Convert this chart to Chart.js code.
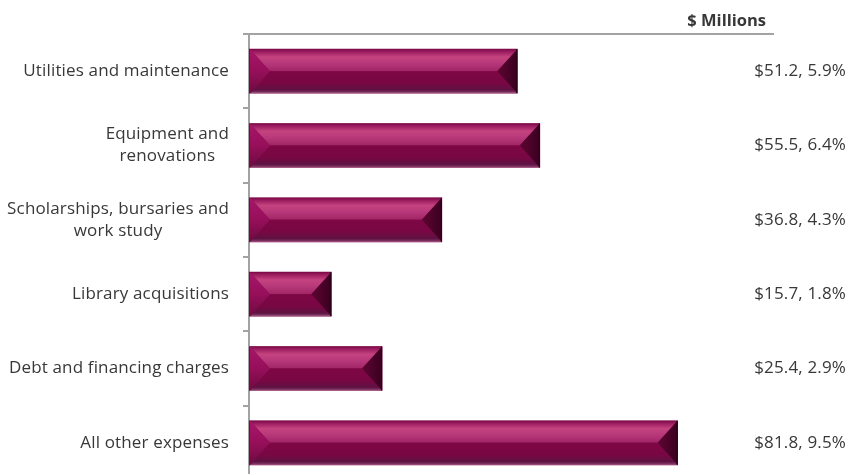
<!DOCTYPE html>
<html>
<head>
<meta charset="utf-8">
<script src="https://cdn.jsdelivr.net/npm/chart.js@4.4.1/dist/chart.umd.min.js"></script>
<style>
  html, body { margin: 0; padding: 0; background: #ffffff; overflow: hidden; }
  #wrap { position: relative; width: 850px; height: 490px; }
</style>
</head>
<body>
<div id="wrap"><canvas id="chart"></canvas></div>
<script>
// Expense categories (multi-line names are arrays of lines)
const categories = [
  'Utilities and maintenance',
  ['Equipment and', 'renovations'],
  ['Scholarships, bursaries and', 'work study'],
  'Library acquisitions',
  'Debt and financing charges',
  'All other expenses'
];
// Spending in $ millions
const amounts = [51.2, 55.5, 36.8, 15.7, 25.4, 81.8];
// Share of total spending, percent
const shares = [5.9, 6.4, 4.3, 1.8, 2.9, 9.5];
const unitLabel = '$ Millions';

const FONT = '"Open Sans", "Noto Sans", sans-serif';
const TEXT = '#383838';
const AXIS = '#a3a3a3';

// Paints each bar as a bevelled block: light top face, dark bottom face, angled ends
const bevelBars = {
  id: 'bevelBars',
  afterDatasetsDraw(chart) {
    const ctx = chart.ctx;
    chart.getDatasetMeta(0).data.forEach(bar => {
      const p = bar.getProps(['x', 'y', 'base', 'height'], true);
      const l = Math.min(p.base, p.x) + 1, r = Math.max(p.base, p.x);
      const t = p.y - p.height / 2, b = p.y + p.height / 2, m = p.y;
      const bw = Math.min(20, (r - l) / 2);
      ctx.save();
      // top face
      let g = ctx.createLinearGradient(0, t, 0, m);
      g.addColorStop(0, '#7c0a48');
      g.addColorStop(0.12, '#9c1d60');
      g.addColorStop(0.35, '#c4437f');
      g.addColorStop(0.65, '#b7387a');
      g.addColorStop(1, '#a02566');
      ctx.fillStyle = g;
      ctx.beginPath();
      ctx.moveTo(l, t); ctx.lineTo(r, t); ctx.lineTo(r - bw, m); ctx.lineTo(l + bw, m); ctx.closePath();
      ctx.fill();
      // bottom face
      g = ctx.createLinearGradient(0, m, 0, b);
      g.addColorStop(0, '#7e0745');
      g.addColorStop(0.55, '#780743');
      g.addColorStop(0.85, '#5e1242');
      g.addColorStop(0.95, '#7a3060');
      g.addColorStop(1, '#b0708f');
      ctx.fillStyle = g;
      ctx.beginPath();
      ctx.moveTo(l + bw, m); ctx.lineTo(r - bw, m); ctx.lineTo(r, b); ctx.lineTo(l, b); ctx.closePath();
      ctx.fill();
      // left face
      g = ctx.createLinearGradient(0, t, 0, b);
      g.addColorStop(0, '#a8166a');
      g.addColorStop(0.5, '#960f5a');
      g.addColorStop(1, '#6e0a40');
      ctx.fillStyle = g;
      ctx.beginPath();
      ctx.moveTo(l, t); ctx.lineTo(l + bw, m); ctx.lineTo(l, b); ctx.closePath();
      ctx.fill();
      // right face
      g = ctx.createLinearGradient(r - bw, 0, r, 0);
      g.addColorStop(0, '#5e0532');
      g.addColorStop(1, '#3a0020');
      ctx.fillStyle = g;
      ctx.beginPath();
      ctx.moveTo(r, t); ctx.lineTo(r, b); ctx.lineTo(r - bw, m); ctx.closePath();
      ctx.fill();
      // thin edge on the far end
      ctx.strokeStyle = '#2a0016';
      ctx.lineWidth = 1;
      ctx.beginPath();
      ctx.moveTo(r - 0.5, t); ctx.lineTo(r - 0.5, b);
      ctx.stroke();
      ctx.restore();
    });
  }
};

// Category names on the left, value captions on the right, unit header on top
const textLayer = {
  id: 'textLayer',
  afterDraw(chart) {
    const ctx = chart.ctx;
    const yScale = chart.scales.y;
    ctx.save();
    ctx.fillStyle = TEXT;
    ctx.font = '17px ' + FONT;
    ctx.letterSpacing = '0.15px';
    ctx.textBaseline = 'middle';
    const labelRight = yScale.right - 20;
    const lineH = 22;
    categories.forEach((cat, i) => {
      const lines = Array.isArray(cat) ? cat : [cat];
      const cy = yScale.getPixelForValue(i);
      const maxW = Math.max(...lines.map(s => ctx.measureText(s).width));
      const cx = labelRight - maxW / 2;
      ctx.textAlign = 'center';
      lines.forEach((s, k) => {
        ctx.fillText(s, cx, cy + (k - (lines.length - 1) / 2) * lineH);
      });
    });
    ctx.textAlign = 'right';
    chart.getDatasetMeta(0).data.forEach((bar, i) => {
      ctx.fillText('$' + amounts[i].toFixed(1) + ', ' + shares[i].toFixed(1) + '%', chart.width - 4, bar.y);
    });
    ctx.font = 'bold 16.5px ' + FONT;
    ctx.letterSpacing = '0px';
    ctx.textAlign = 'right';
    ctx.fillText(unitLabel, chart.chartArea.right - 7, 21);
    ctx.restore();
  }
};

new Chart(document.getElementById('chart'), {
  type: 'bar',
  data: {
    labels: categories,
    datasets: [{
      data: amounts,
      backgroundColor: '#7c0745',
      borderWidth: 0,
      barThickness: 44
    }]
  },
  options: {
    indexAxis: 'y',
    responsive: true,
    maintainAspectRatio: false,
    animation: false,
    events: [],
    layout: { padding: { left: 0, right: 77, top: 0, bottom: 10 } },
    plugins: { legend: { display: false }, tooltip: { enabled: false } },
    scales: {
      x: {
        position: 'top',
        min: 0,
        max: 100,
        ticks: { display: false },
        grid: { display: false },
        border: { display: true, color: AXIS, width: 2 },
        afterFit(s) { s.height = 34; }
      },
      y: {
        ticks: { display: false },
        grid: { offset: true, drawOnChartArea: false, drawTicks: true, tickLength: 6, color: AXIS, lineWidth: 2 },
        border: { display: true, color: AXIS, width: 2 },
        afterFit(s) { s.width = 249; }
      }
    }
  },
  plugins: [bevelBars, textLayer]
});
</script>
</body>
</html>
